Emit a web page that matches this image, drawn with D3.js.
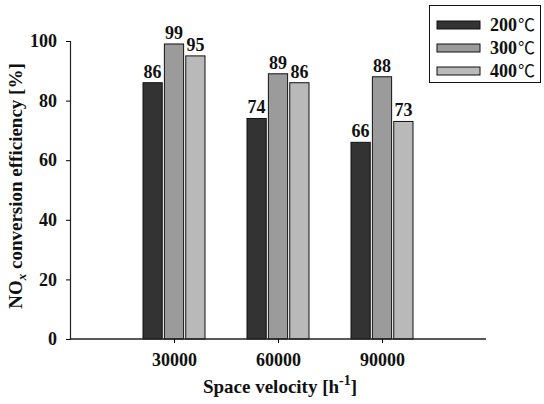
<!DOCTYPE html>
<html>
<head>
<meta charset="utf-8">
<script src="https://cdn.jsdelivr.net/npm/d3@7"></script>
<style>
  body { margin: 0; background: #fff; }
  text { font-family: "Liberation Serif", "Times New Roman", serif; font-weight: bold; }
</style>
</head>
<body>
<div id="chart"></div>
<script>
// 数据
var velocities = [30000, 60000, 90000];
var temps = ["200", "300", "400"];
var eff200 = [86, 74, 66];
var eff300 = [99, 89, 88];
var eff400 = [95, 86, 73];
var yTicks = [0, 20, 40, 60, 80, 100];

var series = [eff200, eff300, eff400];
var colors = ["#333333", "#9b9b9b", "#b9b9b9"];

var w = 544, h = 404;
var svg = d3.select("#chart").append("svg").attr("width", w).attr("height", h);

// 比例尺
var x = d3.scaleLinear().domain([0, 120000]).range([70, 486]);
var y = d3.scaleLinear().domain([0, 100]).range([339, 41]);
var inner = d3.scaleBand().domain(d3.range(3)).range([-31, 31]).paddingInner(0.1);

// 柱子
series.forEach(function (vals, s) {
    svg.selectAll(".bar" + s).data(vals).enter().append("rect")
        .attr("x", function (d, i) { return x(velocities[i]) + inner(s); })
        .attr("y", function (d) { return y(d); })
        .attr("width", inner.bandwidth())
        .attr("height", function (d) { return y(0) - y(d); })
        .attr("fill", colors[s]).attr("stroke", "#111").attr("stroke-width", 1);

    svg.selectAll(".lab" + s).data(vals).enter().append("text")
        .attr("x", function (d, i) { return x(velocities[i]) + inner(s) + inner.bandwidth() / 2; })
        .attr("y", function (d) { return y(d) - 5; })
        .attr("text-anchor", "middle").attr("font-size", 18).attr("fill", "#111")
        .text(function (d) { return d; });
});

// y轴
var yAxis = d3.axisLeft(y).tickValues(yTicks).tickSize(4).tickPadding(9);
var gy = svg.append("g").attr("transform", "translate(70,0)").call(yAxis);
gy.select(".domain").attr("stroke", "#222").attr("stroke-width", 1.2);
gy.selectAll("text").attr("font-size", 18).attr("fill", "#111")
    .style("font-family", "Liberation Serif").style("font-weight", "bold");

// x轴
var xAxis = d3.axisBottom(x).tickValues(velocities).tickSize(4).tickPadding(10)
    .tickFormat(function (d) { return d; });
var gx = svg.append("g").attr("transform", "translate(0,339)").call(xAxis);
gx.select(".domain").attr("stroke", "#222").attr("stroke-width", 1.5).attr("d", "M70,0H486");
gx.selectAll("text").attr("font-size", 18).attr("fill", "#111")
    .style("font-family", "Liberation Serif").style("font-weight", "bold");

// 轴标题
svg.append("text").attr("x", 280).attr("y", 393).attr("text-anchor", "middle")
    .attr("font-size", 19).attr("fill", "#111")
    .html('Space velocity [h<tspan font-size="14" dy="-8">-1</tspan><tspan dy="8">]</tspan>');

svg.append("text").attr("transform", "translate(22,186) rotate(-90)").attr("text-anchor", "middle")
    .attr("font-size", 19).attr("fill", "#111")
    .html('NO<tspan font-size="13" dy="4" font-style="italic">x</tspan><tspan dy="-4"> conversion efficiency [%]</tspan>');

// 图例
var legend = svg.append("g");
legend.append("rect").attr("x", 429.5).attr("y", 5.5).attr("width", 111).attr("height", 77)
    .attr("fill", "#fff").attr("stroke", "#111").attr("stroke-width", 1);
temps.forEach(function (t, i) {
    var ly = 25 + i * 23;
    legend.append("rect").attr("x", 437).attr("y", ly - 4).attr("width", 43).attr("height", 8)
        .attr("fill", colors[i]).attr("stroke", "#111").attr("stroke-width", 1);
    legend.append("text").attr("x", 490).attr("y", ly + 6).attr("font-size", 18).attr("fill", "#111")
        .html(t + '<tspan font-weight="normal" font-family="Noto Sans CJK SC" font-size="17" dx="1">℃</tspan>');
});
</script>
</body>
</html>
